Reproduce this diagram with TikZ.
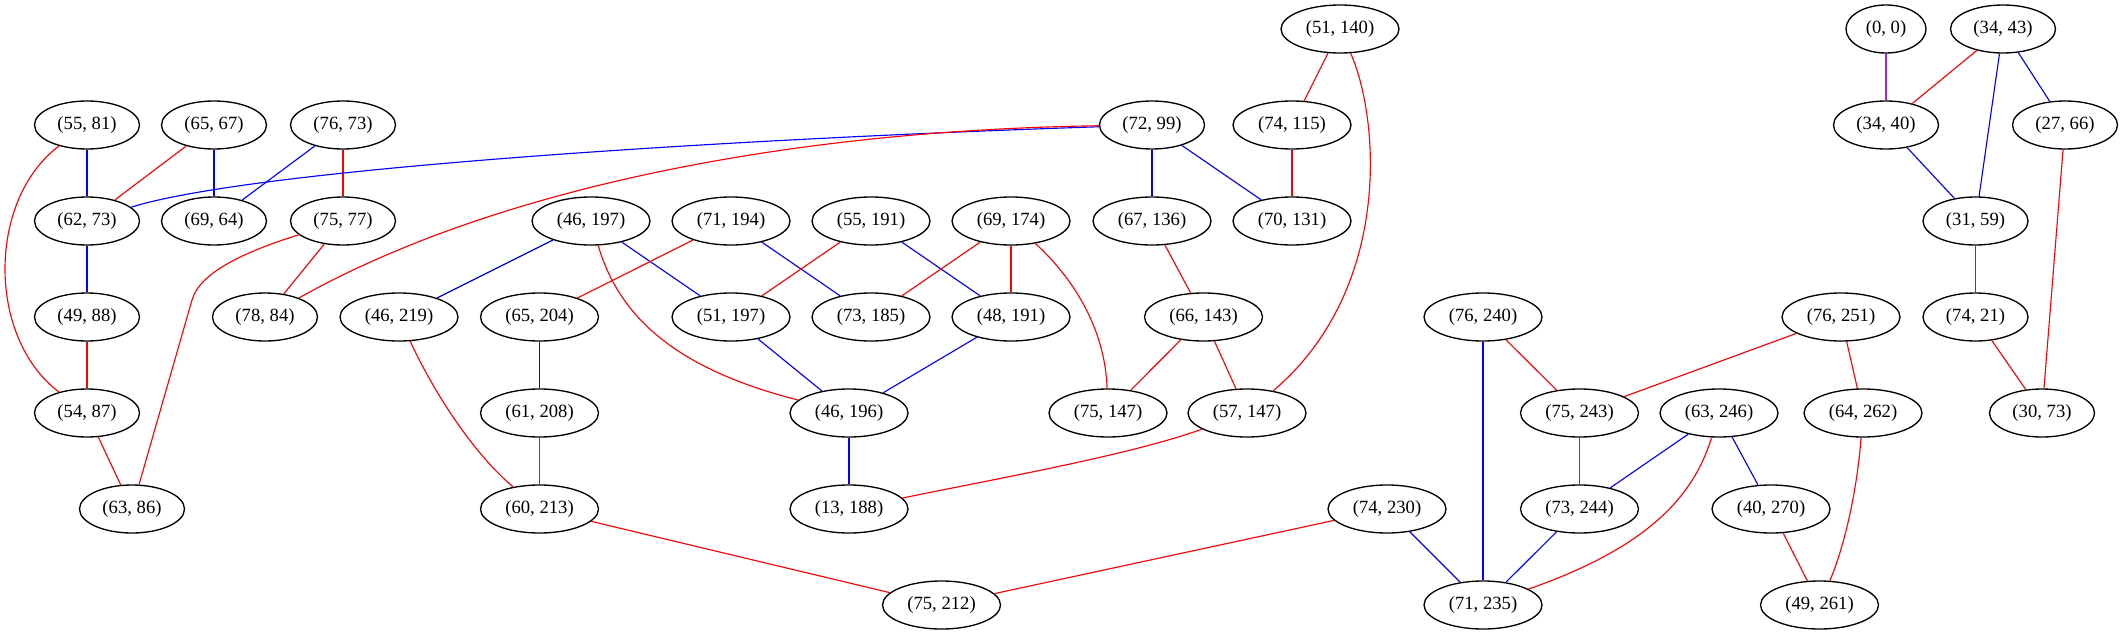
\documentclass[tikz,border=0pt]{standalone}
\usepackage{fontspec}
\setmainfont{Liberation Serif}
\usetikzlibrary{shapes.geometric}
\definecolor{gvpurple}{RGB}{160,32,240}
\begin{document}
\begin{tikzpicture}[x=0.75pt,y=-0.75pt,
  gtwo/.style={ellipse,draw=black,line width=1pt,inner sep=0pt,minimum height=36pt,minimum width=78.75pt,font=\fontsize{14}{16}\selectfont},
  gthree/.style={gtwo,minimum width=88.5pt},
  gzero/.style={gtwo,minimum width=60pt},
  redge/.style={draw=red,line width=0.85pt},
  bedge/.style={draw=blue,line width=0.85pt},
  pedge/.style={draw=gvpurple,line width=0.85pt}]
\fill[white] (0,0) rectangle (2123,635);
\useasboundingbox (0,0) rectangle (2123,635);
% rank 0
\node[gthree] (n51_140) at (1340,29) {(51, 140)};
\node[gzero]  (n0_0)    at (1886,29) {(0, 0)};
\node[gtwo]   (n34_43)  at (2003,29) {(34, 43)};
% rank 1
\node[gtwo]   (n55_81)  at (87,125)  {(55, 81)};
\node[gtwo]   (n65_67)  at (214,125) {(65, 67)};
\node[gtwo]   (n76_73)  at (343,125) {(76, 73)};
\node[gtwo]   (n72_99)  at (1152,125) {(72, 99)};
\node[gthree] (n74_115) at (1292,125) {(74, 115)};
\node[gtwo]   (n34_40)  at (1886,125) {(34, 40)};
\node[gtwo]   (n27_66)  at (2065,125) {(27, 66)};
% rank 2
\node[gtwo]   (n62_73)  at (87,221)  {(62, 73)};
\node[gtwo]   (n69_64)  at (214,221) {(69, 64)};
\node[gtwo]   (n75_77)  at (343,221) {(75, 77)};
\node[gthree] (n46_197) at (591,221) {(46, 197)};
\node[gthree] (n71_194) at (731,221) {(71, 194)};
\node[gthree] (n55_191) at (871,221) {(55, 191)};
\node[gthree] (n69_174) at (1011,221) {(69, 174)};
\node[gthree] (n67_136) at (1152,221) {(67, 136)};
\node[gthree] (n70_131) at (1292,221) {(70, 131)};
\node[gtwo]   (n31_59)  at (1975.5,221) {(31, 59)};
% rank 3
\node[gtwo]   (n49_88)  at (87,317)  {(49, 88)};
\node[gtwo]   (n78_84)  at (265,317) {(78, 84)};
\node[gthree] (n46_219) at (399,317) {(46, 219)};
\node[gthree] (n65_204) at (539.5,317) {(65, 204)};
\node[gthree] (n51_197) at (731,317) {(51, 197)};
\node[gthree] (n73_185) at (871,317) {(73, 185)};
\node[gthree] (n48_191) at (1011,317) {(48, 191)};
\node[gthree] (n66_143) at (1203.5,317) {(66, 143)};
\node[gthree] (n76_240) at (1483,317) {(76, 240)};
\node[gthree] (n76_251) at (1841,317) {(76, 251)};
\node[gtwo]   (n74_21)  at (1975.5,317) {(74, 21)};
% rank 4
\node[gtwo]   (n54_87)  at (87,413)  {(54, 87)};
\node[gthree] (n61_208) at (539.5,413) {(61, 208)};
\node[gthree] (n46_196) at (849,413) {(46, 196)};
\node[gthree] (n75_147) at (1108,413) {(75, 147)};
\node[gthree] (n57_147) at (1247,413) {(57, 147)};
\node[gthree] (n75_243) at (1579.5,413) {(75, 243)};
\node[gthree] (n63_246) at (1719,413) {(63, 246)};
\node[gthree] (n64_262) at (1863,413) {(64, 262)};
\node[gtwo]   (n30_73)  at (2042,413) {(30, 73)};
% rank 5
\node[gtwo]   (n63_86)  at (132,509) {(63, 86)};
\node[gthree] (n60_213) at (539.5,509) {(60, 213)};
\node[gthree] (n13_188) at (849,509) {(13, 188)};
\node[gthree] (n74_230) at (1387,509) {(74, 230)};
\node[gthree] (n73_244) at (1579.5,509) {(73, 244)};
\node[gthree] (n40_270) at (1771,509) {(40, 270)};
% rank 6
\node[gthree] (n75_212) at (941.5,605) {(75, 212)};
\node[gthree] (n71_235) at (1483,605) {(71, 235)};
\node[gthree] (n49_261) at (1819.5,605) {(49, 261)};

\coordinate (k1) at (192,300);

% edges
\draw[bedge] (n55_81) -- (n62_73);
\draw[redge] (n55_81) .. controls (-13,200) and (-13,338) .. (n54_87);
\draw[redge] (n65_67) -- (n62_73);
\draw[bedge] (n65_67) -- (n69_64);
\draw[bedge] (n76_73) -- (n69_64);
\draw[redge] (n76_73) -- (n75_77);
\draw[bedge] (n72_99) .. controls (700,140) and (250,170) .. (n62_73);
\draw[redge] (n72_99) .. controls (800,130) and (500,185) .. (n78_84);
\draw[bedge] (n62_73) -- (n49_88);
\draw[redge] (n49_88) -- (n54_87);
\draw[redge] (n54_87) -- (n63_86);
\draw[redge] (n75_77) .. controls (250,250) and (200,271) .. (k1) -- (n63_86);
\draw[redge] (n75_77) -- (n78_84);
\draw[bedge] (n46_197) -- (n46_219);
\draw[bedge] (n46_197) -- (n51_197);
\draw[redge] (n46_197) .. controls (620,320) and (680,370) .. (n46_196);
\draw[redge] (n71_194) -- (n65_204);
\draw[bedge] (n71_194) -- (n73_185);
\draw[redge] (n55_191) -- (n51_197);
\draw[bedge] (n55_191) -- (n48_191);
\draw[redge] (n69_174) -- (n73_185);
\draw[redge] (n69_174) -- (n48_191);
\draw[redge] (n69_174) .. controls (1075,280) and (1105,330) .. (n75_147);
\draw[bedge] (n72_99) -- (n67_136);
\draw[bedge] (n72_99) -- (n70_131);
\draw[redge] (n51_140) -- (n74_115);
\draw[redge] (n51_140) .. controls (1380,120) and (1392,290) .. (n57_147);
\draw[redge] (n74_115) -- (n70_131);
\draw[redge] (n67_136) -- (n66_143);
\draw[redge] (n66_143) -- (n75_147);
\draw[redge] (n66_143) -- (n57_147);
\draw[redge] (n57_147) .. controls (1130,455) and (1000,478) .. (n13_188);
\draw[redge] (n46_219) .. controls (435,395) and (475,455) .. (n60_213);
\draw[bedge] (n65_204) -- (n61_208);
\draw[redge] (n61_208) -- (n60_213);
\draw[bedge] (n51_197) -- (n46_196);
\draw[bedge] (n48_191) -- (n46_196);
\draw[bedge] (n46_196) -- (n13_188);
\draw[redge] (n60_213) -- (n75_212);
\draw[redge] (n74_230) -- (n75_212);
\draw[bedge] (n74_230) -- (n71_235);
\draw[bedge] (n76_240) -- (n71_235);
\draw[redge] (n76_240) -- (n75_243);
\draw[redge] (n75_243) -- (n73_244);
\draw[bedge] (n73_244) -- (n71_235);
\draw[bedge] (n63_246) -- (n73_244);
\draw[redge] (n63_246) .. controls (1692,502) and (1640,550) .. (n71_235);
\draw[bedge] (n63_246) -- (n40_270);
\draw[redge] (n76_251) -- (n75_243);
\draw[redge] (n76_251) -- (n64_262);
\draw[redge] (n64_262) .. controls (1857,490) and (1845,545) .. (n49_261);
\draw[redge] (n40_270) -- (n49_261);
\draw[pedge] (n0_0) -- (n34_40);
\draw[redge] (n34_43) -- (n34_40);
\draw[bedge] (n34_43) -- (n31_59);
\draw[bedge] (n34_43) -- (n27_66);
\draw[bedge] (n34_40) -- (n31_59);
\draw[redge] (n31_59) -- (n74_21);
\draw[redge] (n74_21) -- (n30_73);
\draw[redge] (n27_66) -- (n30_73);
\end{tikzpicture}
\end{document}
